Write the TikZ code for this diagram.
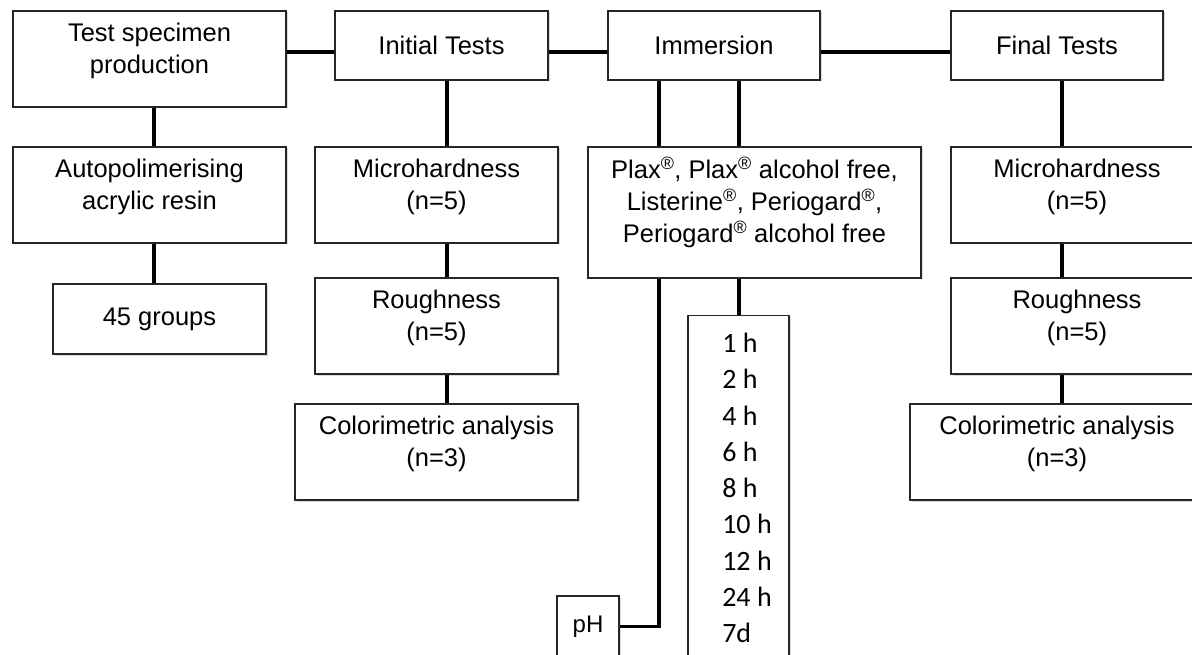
\documentclass[tikz,border=0pt]{standalone}
\usepackage{fontspec}
\setmainfont{Liberation Sans}
\newfontfamily\calibrifont{Carlito}
\usetikzlibrary{shadows}
% two or three lines, set a little above the middle of the box
\newcommand{\boxlines}[1]{\begin{tabular}{@{}c@{}}#1\\[16pt]\end{tabular}}

\begin{document}
\begin{tikzpicture}[x=1pt, y=-1pt,
	stage/.style={rectangle, draw=black!85, line width=1.3pt, fill=white, inner sep=0pt, drop shadow={shadow xshift=1.5pt, shadow yshift=-1.5pt, opacity=0.3}, font=\fontsize{25.5}{32}\selectfont},
	head/.style={stage, minimum width=212pt, minimum height=69pt},
	test/.style={stage, minimum height=96pt},
	hours/.style={stage, font=\calibrifont\fontsize{28}{36.25}\selectfont},
	link/.style={line width=3.5pt, black}]
	\useasboundingbox (0,0) rectangle (1192,655);
	% top row
	\node[test, minimum width=273pt] (spec) at (149.5,59) {\boxlines{Test specimen\\production}};
	\node[head, minimum width=213pt] (init) at (441.5,45.5) {Initial Tests};
	\node[head] (imm) at (714,45.5) {Immersion};
	\node[head] (fin) at (1057,45.5) {Final Tests};
	% specimen branch
	\node[test, minimum width=273pt] (resin) at (149.5,195) {\boxlines{Autopolimerising\\acrylic resin}};
	\node[stage, minimum width=213pt, minimum height=70pt] (groups) at (159.5,319) {45 groups};
	% initial tests branch
	\node[test, minimum width=243pt] (ihard) at (436.5,195) {\boxlines{Microhardness\\(n=5)}};
	\node[test, minimum width=243pt] (irough) at (436.5,326) {\boxlines{Roughness\\(n=5)}};
	\node[test, minimum width=283pt] (icolor) at (436.5,452) {\boxlines{Colorimetric analysis\\(n=3)}};
	% immersion branch
	\node[stage, minimum width=333pt, minimum height=131pt] (rinse) at (754.5,212.5) {\boxlines{Plax\textsuperscript{\textregistered}, Plax\textsuperscript{\textregistered} alcohol free,\\Listerine\textsuperscript{\textregistered}, Periogard\textsuperscript{\textregistered},\\Periogard\textsuperscript{\textregistered} alcohol free}};
	\node[hours, anchor=north, minimum width=101pt, inner ysep=11.6pt] (times) at (738.5,315) {\begin{tabular}{@{\hspace{17pt}}l@{}}1 h\\2 h\\4 h\\6 h\\8 h\\10 h\\12 h\\24 h\\7d\end{tabular}};
	\node[stage, font=\fontsize{24}{29}\selectfont, minimum width=62pt, minimum height=61pt] (ph) at (588,626.6) {pH};
	% final tests branch
	\node[test, minimum width=252pt] (fhard) at (1077,195) {\boxlines{Microhardness\\(n=5)}};
	\node[test, minimum width=252pt] (frough) at (1077,326) {\boxlines{Roughness\\(n=5)}};
	\node[test, minimum width=294pt] (fcolor) at (1057,452) {\boxlines{Colorimetric analysis\\(n=3)}};
	% connectors
	\draw[link] (spec.east |- 0,52) -- (init.west |- 0,52);
	\draw[link] (init.east |- 0,52) -- (imm.west |- 0,52);
	\draw[link] (imm.east |- 0,52) -- (fin.west |- 0,52);
	\draw[link] (spec.south -| 154,0) -- (resin.north -| 154,0);
	\draw[link] (resin.south -| 154,0) -- (groups.north -| 154,0);
	\draw[link] (init.south -| 447,0) -- (ihard.north -| 447,0);
	\draw[link] (ihard.south -| 447,0) -- (irough.north -| 447,0);
	\draw[link] (irough.south -| 447,0) -- (icolor.north -| 447,0);
	\draw[link] (imm.south -| 659,0) -- (rinse.north -| 659,0);
	\draw[link] (imm.south -| 739,0) -- (rinse.north -| 739,0);
	\draw[link] (rinse.south -| 739,0) -- (times.north -| 739,0);
	\draw[link] (rinse.south -| 659,0) |- (ph.east);
	\draw[link] (fin.south -| 1062,0) -- (fhard.north -| 1062,0);
	\draw[link] (fhard.south -| 1062,0) -- (frough.north -| 1062,0);
	\draw[link] (frough.south -| 1062,0) -- (fcolor.north -| 1062,0);
\end{tikzpicture}
\end{document}
